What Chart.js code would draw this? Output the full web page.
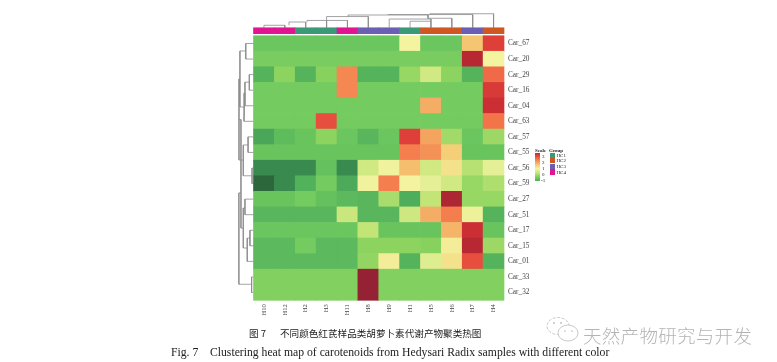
<!DOCTYPE html>
<html><head><meta charset="utf-8">
<script src="https://cdn.jsdelivr.net/npm/chart.js@4"></script>
<style>
html,body{margin:0;padding:0;background:#fff;width:777px;height:362px;overflow:hidden}
#wrap{position:relative;width:777px;height:362px}
canvas{position:absolute;left:0;top:0;filter:blur(.45px)}
.t{position:absolute;white-space:pre;line-height:1;color:#222}
.s{font-family:"Liberation Serif",serif}
.lg{position:absolute;filter:blur(.3px)}
</style></head><body>
<div id="wrap">
<canvas id="c" width="777" height="362"></canvas>
<div class="t" style="left:249px;top:326px;font:9.6px 'Noto Sans CJK SC',sans-serif;color:#222">图 7</div>
<div class="t" style="left:280px;top:326px;font:9.6px 'Noto Sans CJK SC',sans-serif;color:#222">不同颜色红芪样品类胡萝卜素代谢产物聚类热图</div>
<div class="t s" style="left:171px;top:347px;font-size:11.7px;color:#222">Fig. 7    Clustering heat map of carotenoids from Hedysari Radix samples with different color</div>
<svg style="position:absolute;left:545px;top:316px" width="36" height="30"><g fill="#fff" stroke="#bbb" stroke-width=".8"><ellipse cx="13" cy="10" rx="11" ry="8.5" stroke-dasharray="3 1.5"/><ellipse cx="23" cy="17" rx="10" ry="8"/></g><g fill="#bbb"><circle cx="9" cy="7" r=".9"/><circle cx="16" cy="7" r=".9"/><circle cx="20" cy="15" r=".8"/><circle cx="27" cy="15" r=".8"/></g></svg>
<div class="t" style="left:583px;top:322px;font:300 18.5px 'Noto Sans CJK SC',sans-serif;color:#b4b4b4;letter-spacing:.3px">天然产物研究与开发</div>
<div id="legend"></div>
</div>
<script>
const columns = ["H10","H12","H2","H3","H11","H8","H9","H1","H5","H6","H7","H4"];
const rows = ["Car_67","Car_20","Car_29","Car_16","Car_04","Car_63","Car_57","Car_55","Car_56","Car_59","Car_27","Car_51","Car_17","Car_15","Car_01","Car_33","Car_32"];
const car67 = [-.55,-.55,-.55,-.55,-.55,-.55,-.55,1,-.55,-.55,1.7,3.2];
const car20 = [-.4,-.4,-.4,-.4,-.4,-.4,-.4,-.4,-.4,-.4,3.7,1];
const car29 = [-.9,-.2,-.9,-.25,2.4,-.9,-.9,-.1,.5,-.2,-.9,2.7];
const car16 = [-.45,-.45,-.45,-.45,2.4,-.45,-.45,-.45,-.45,-.45,-.45,3.3];
const car04 = [-.45,-.45,-.45,-.45,-.45,-.45,-.45,-.45,2,-.45,-.45,3.5];
const car63 = [-.45,-.45,-.45,3,-.45,-.45,-.45,-.45,-.45,-.45,-.45,2.6];
const car57 = [-1.1,-.75,-.6,-.2,-.55,-.85,-.55,3.2,2.1,0,-.55,-.05];
const car55 = [-.6,-.6,-.6,-.6,-.6,-.6,-.6,2.5,2.3,1.6,-.6,-.6];
const car56 = [-1.45,-1.45,-1.45,-.65,-1.45,.5,.95,1.8,.5,1.3,.2,.8];
const car59 = [-1.95,-1.45,-.95,-.45,-1.05,.95,2.5,1,.8,.5,-.1,.1];
const car27 = [-.6,-.6,-.45,-.65,-.8,-.85,.05,-1,.3,3.8,-.1,-.1];
const car51 = [-.85,-.85,-.85,-.85,.4,-.85,-.85,.45,2,2.5,.9,-.9];
const car17 = [-.55,-.55,-.55,-.55,-.55,.3,-.6,-.6,-.6,1.9,3.5,-.6];
const car15 = [-.8,-.8,-.45,-.8,-.8,-.2,-.2,-.2,-.25,1.1,3.7,-.05];
const car01 = [-.8,-.8,-.8,-.8,-.8,-.15,1.1,-.9,.7,1.3,3,-.9];
const car33 = [-.3,-.3,-.3,-.3,-.3,4,-.3,-.3,-.3,-.3,-.3,-.3];
const car32 = [-.3,-.3,-.3,-.3,-.3,4,-.3,-.3,-.3,-.3,-.3,-.3];
const matrix = [car67,car20,car29,car16,car04,car63,car57,car55,car56,car59,car27,car51,car17,car15,car01,car33,car32];
const groups = ["HC4","HC4","HC1","HC1","HC4","HC3","HC3","HC1","HC2","HC2","HC3","HC2"];
const groupNames = ["HC1","HC2","HC3","HC4"];
const groupColors = ["#3a9a78","#cf5722","#6b5fb5","#e0158f"];
// column dendrogram: left col, right col, top height, left foot, right foot
const colTree = [[.5,1.5,.67,.51,.51],[1.7,2.5,.88,.67,.51],[2.56,3.5,.98,.88,.51],[3.5,4.5,.98,.51,.51],[3.5,5.5,1.23,.98,.51],[7.5,8.5,.93,.51,.51],[6.5,8.5,1.07,.51,.93],[8.36,9.5,1.12,1.07,.51],[4.53,8.36,1.33,1.23,1.12],[6.44,10.5,1.36,1.33,.51],[8.45,11.5,1.41,1.36,.51]];
// row dendrogram: upper row, lower row, depth, upper foot, lower foot
const rowTree = [[.5,1.5,.37,0,0],[2.5,3.5,.2,0,0],[2.98,4.5,.41,.2,0],[3.68,5.5,.455,.41,0],[.98,4.58,.65,.37,.455],[6.5,7.5,.26,0,0],[8.5,9.5,.07,0,0],[7.02,9,.49,.26,.07],[2.78,7.99,.695,.65,.49],[10.5,11.5,.41,0,0],[12.5,13.5,.17,0,0],[13,14.5,.3,.17,0],[11.07,13.64,.49,.41,.3],[5.39,12.36,.6,.695,.49],[10.1,15.97,.7,.6,.09],[15.5,16.5,.09,0,0]];
const scaleStops = [[-2,"#2a6438"],[-1.45,"#388a4e"],[-1,"#4fae5b"],[-.5,"#6fc95f"],[-.2,"#8cd35f"],[.3,"#c3e578"],[1,"#f3f3a0"],[1.6,"#f4cf78"],[2.1,"#f4a45f"],[2.6,"#f4744a"],[3.1,"#e5443a"],[3.6,"#c42a32"],[4,"#952234"]];
const legendTicks = [3,2,1,0,-1];

function hex(c){return [1,3,5].map(i=>parseInt(c.substr(i,2),16));}
function colorOf(v){
  for(let i=1;i<scaleStops.length;i++){
    if(v<=scaleStops[i][0]){
      const [a,ca]=scaleStops[i-1],[b,cb]=scaleStops[i];
      const t=Math.max(0,(v-a)/(b-a)),A=hex(ca),B=hex(cb);
      return "rgb("+A.map((x,k)=>Math.round(x+(B[k]-x)*t)).join(",")+")";
    }
  }
  return scaleStops[scaleStops.length-1][1];
}
const nR=rows.length,nC=columns.length;
const datasets=[];
for(let r=nR-1;r>=0;r--){
  datasets.push({label:rows[r],data:columns.map((c,i)=>({x:i+.5,y:1})),backgroundColor:matrix[r].map(colorOf),
    borderWidth:0,stack:"h",barPercentage:1,categoryPercentage:1,xAxisID:"x",yAxisID:"y",clip:false});
}
datasets.push({label:"Group",data:groups.map((g,i)=>({x:i+.5,y:[nR+.13,nR+.51]})),
  backgroundColor:groups.map(g=>groupColors[groupNames.indexOf(g)]),
  borderWidth:0,stack:"h",barPercentage:1,categoryPercentage:1,xAxisID:"x",yAxisID:"y2",clip:false});
const gap={x:NaN,y:NaN};
const colPts=[],rowPts=[];
colTree.forEach(([a,b,t,f1,f2])=>{colPts.push({x:a,y:nR+f1},{x:a,y:nR+t},{x:b,y:nR+t},{x:b,y:nR+f2},gap);});
rowTree.forEach(([a,b,d,f1,f2])=>{rowPts.push({x:-f1,y:nR-a},{x:-d,y:nR-a},{x:-d,y:nR-b},{x:-f2,y:nR-b},gap);});
[["colTree",colPts],["rowTree",rowPts]].forEach(([n,pts])=>{
  datasets.push({type:"scatter",label:n,data:pts,showLine:true,spanGaps:false,pointRadius:0,borderColor:"#8c8c8c",borderWidth:.8,xAxisID:"x",yAxisID:"y2",clip:false});
});

const serif={family:"'Liberation Serif',serif"};
new Chart(document.getElementById("c"),{
  type:"bar",
  data:{datasets},
  options:{
    responsive:false,animation:false,
    layout:{padding:{left:253.5,top:35.7,right:223,bottom:32}},
    plugins:{legend:{display:false},tooltip:{enabled:false},title:{display:false}},
    scales:{
      x:{type:"linear",stacked:true,offset:false,min:0,max:nC,display:false},
      xCols:{type:"category",axis:"x",labels:columns,offset:true,position:"bottom",grid:{display:false,drawTicks:false},border:{display:false},
        afterFit:s=>{s.height=29.7;},
        ticks:{minRotation:90,maxRotation:90,autoSkip:false,padding:4,color:"#444",font:{...serif,size:6.5}}},
      y:{type:"linear",stacked:true,min:0,max:nR,display:false},
      yRows:{type:"category",axis:"y",labels:rows,offset:true,position:"right",grid:{display:false,drawTicks:false},border:{display:false},
        afterFit:s=>{s.width=50;},
        ticks:{autoSkip:false,padding:4,color:"#444",font:{...serif,size:7.3}}},
      y2:{type:"linear",axis:"y",stacked:false,min:0,max:nR,display:false}
    }
  }
});

// scale and group key
const lg=document.getElementById("legend");
const top0=152.5,h=28.5,span=4.6;
const grad=[...scaleStops].reverse().filter(s=>s[0]>=-1).map(s=>s[1]+" "+(((3.6-s[0])/span*100).toFixed(1))+"%").join(",");
let html=`<div class="t s" style="left:535px;top:147.5px;font-size:5px;font-weight:bold">Scale</div>
<div class="t s" style="left:549px;top:147.5px;font-size:5px;font-weight:bold">Group</div>
<div class="lg" style="left:535px;top:${top0}px;width:5px;height:${h}px;background:linear-gradient(to bottom,${grad})"></div>`;
legendTicks.forEach(v=>{html+=`<div class="t s" style="left:${v<0?541:542}px;top:${top0+(3.6-v)/span*h-2.6}px;font-size:5px">${v}</div>`;});
groupNames.forEach((g,i)=>{html+=`<div class="lg" style="left:549.5px;top:${152.5+i*5.6}px;width:5.5px;height:5.4px;background:${groupColors[i]}"></div>
<div class="t s" style="left:556.5px;top:${152.7+i*5.6}px;font-size:5px">${g}</div>`;});
lg.innerHTML=html;
</script>
</body></html>
